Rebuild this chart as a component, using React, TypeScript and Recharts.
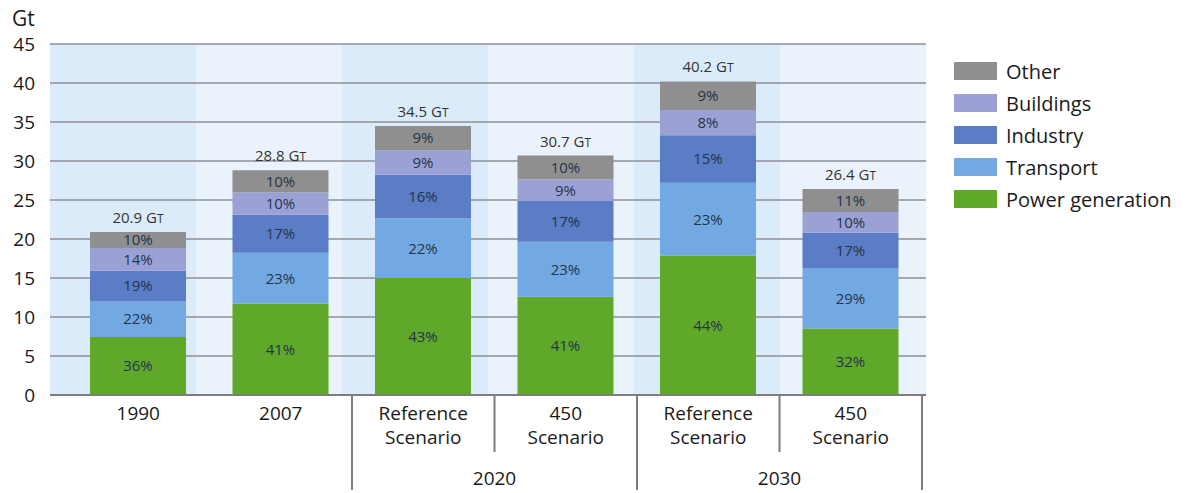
import { BarChart, Bar, XAxis, YAxis, CartesianGrid, LabelList } from 'recharts'

const categories = ['1990', '2007', '2020 Reference', '2020 450', '2030 Reference', '2030 450']
const tickLines = [['1990'], ['2007'], ['Reference', 'Scenario'], ['450', 'Scenario'], ['Reference', 'Scenario'], ['450', 'Scenario']]
const groups = [{ label: '2020', first: 2 }, { label: '2030', first: 4 }]
const totals = [20.9, 28.8, 34.5, 30.7, 40.2, 26.4]

// sector shares in %, stacked bottom to top
const powerPct = [36, 41, 43, 41, 44, 32]
const transportPct = [22, 23, 22, 23, 23, 29]
const industryPct = [19, 17, 16, 17, 15, 17]
const buildingsPct = [14, 10, 9, 9, 8, 10]
const otherPct = [10, 10, 9, 10, 9, 11]

const yTicks = [0, 5, 10, 15, 20, 25, 30, 35, 40, 45]

const sectors = [
  { key: 'power', name: 'Power generation', color: '#5fa82a', pct: powerPct },
  { key: 'transport', name: 'Transport', color: '#72a9e2', pct: transportPct },
  { key: 'industry', name: 'Industry', color: '#5a7dc5', pct: industryPct },
  { key: 'buildings', name: 'Buildings', color: '#9ca1d5', pct: buildingsPct },
  { key: 'other', name: 'Other', color: '#8f8f8f', pct: otherPct },
]

// split each total by its shares (shares are rounded, so normalise to the total)
const data = categories.map((name, i) => {
  const row: Record<string, number | string> = { name, total: totals[i] }
  const sum = sectors.reduce((s, sec) => s + sec.pct[i], 0)
  sectors.forEach(sec => {
    row[sec.key] = (totals[i] * sec.pct[i]) / sum
    row[`${sec.key}Pct`] = sec.pct[i]
  })
  return row
})

const W = 1191
const H = 493
const MARGIN = { top: 44, right: 265, bottom: 0, left: 0 }
const Y_AXIS_W = 50
const X_AXIS_H = 98
const PAD_L = 17
const PAD_R = 4
const PLOT_W = W - MARGIN.left - MARGIN.right - Y_AXIS_W
const AXIS_Y = H - X_AXIS_H
const HALF_BAND = (PLOT_W - PAD_L - PAD_R) / categories.length / 2
const FONT = '"Open Sans", sans-serif'
const AXIS_GREY = '#7d7d7d'

function CategoryTick({ x, index }: { x: number; index: number }) {
  const lines = tickLines[index] ?? []
  const group = groups.find(g => g.first === index)
  const inGroup = groups.some(g => index === g.first || index === g.first + 1)
  const left = x - HALF_BAND
  const right = x + HALF_BAND
  return (
    <g>
      {lines.map((t, k) => (
        <text key={k} x={x} y={AXIS_Y + 25 + k * 24} textAnchor="middle" fontSize={19} fill="#1a1a1a" fontFamily={FONT}>
          {t}
        </text>
      ))}
      {group && <line x1={left} x2={left} y1={AXIS_Y} y2={AXIS_Y + 95} stroke={AXIS_GREY} strokeWidth={2} />}
      {group && (
        <text x={right} y={AXIS_Y + 90} textAnchor="middle" fontSize={19} fill="#1a1a1a" fontFamily={FONT}>
          {group.label}
        </text>
      )}
      {!group && inGroup && <line x1={left} x2={left} y1={AXIS_Y} y2={AXIS_Y + 57} stroke={AXIS_GREY} strokeWidth={2} />}
      {index === categories.length - 1 && (
        <line x1={right} x2={right} y1={AXIS_Y} y2={AXIS_Y + 95} stroke={AXIS_GREY} strokeWidth={2} />
      )}
    </g>
  )
}

function TotalLabel(props: any) {
  const { x, y, width, value } = props
  return (
    <text x={x + width / 2} y={y - 9} textAnchor="middle" fontSize={15} fill="#333" fontFamily={FONT}>
      {`${Number(value).toFixed(1)} G`}
      <tspan fontSize={12}>T</tspan>
    </text>
  )
}

export default function App() {
  return (
    <div style={{ position: 'absolute', left: 0, top: 0, width: W, height: H, background: '#fff', fontFamily: FONT }}>
      <div style={{ position: 'absolute', left: 12, top: 4, fontSize: 21, color: '#1a1a1a' }}>Gt</div>
      <BarChart width={W} height={H} data={data} margin={MARGIN} barSize={96}>
        <CartesianGrid
          horizontal={false}
          vertical
          stroke="none"
          verticalFill={['#dbebf9', '#eaf3fb']}
          verticalCoordinatesGenerator={({ offset }: any) =>
            categories.map((_, i) => offset.left + (i * offset.width) / categories.length)
          }
        />
        <CartesianGrid horizontal vertical={false} stroke="#8c9198" strokeWidth={1.5} />
        <XAxis
          dataKey="name"
          height={X_AXIS_H}
          interval={0}
          padding={{ left: PAD_L, right: PAD_R }}
          axisLine={{ stroke: AXIS_GREY, strokeWidth: 2 }}
          tickLine={false}
          tick={(p: any) => <CategoryTick x={p.x} index={p.index} />}
        />
        <YAxis
          width={Y_AXIS_W}
          domain={[0, 45]}
          ticks={yTicks}
          axisLine={false}
          tickLine={false}
          tickMargin={9}
          tick={{ fontSize: 19, fill: '#1a1a1a', fontFamily: FONT }}
        />
        {sectors.map((sec, si) => (
          <Bar key={sec.key} dataKey={sec.key} name={sec.name} stackId="co2" fill={sec.color} isAnimationActive={false}>
            <LabelList
              dataKey={`${sec.key}Pct`}
              position="center"
              formatter={(v: any) => `${v}%`}
              style={{ fontSize: 15, fill: '#24344a', fontFamily: FONT }}
            />
            {si === sectors.length - 1 && <LabelList dataKey="total" content={TotalLabel} />}
          </Bar>
        ))}
      </BarChart>
      <div style={{ position: 'absolute', left: 954, top: 55 }}>
        {[...sectors].reverse().map(sec => (
          <div key={sec.key} style={{ display: 'flex', alignItems: 'center', height: 32 }}>
            <div style={{ width: 43, height: 18, background: sec.color, marginRight: 9 }} />
            <span style={{ fontSize: 20, color: '#1a1a1a', whiteSpace: 'nowrap' }}>{sec.name}</span>
          </div>
        ))}
      </div>
    </div>
  )
}
